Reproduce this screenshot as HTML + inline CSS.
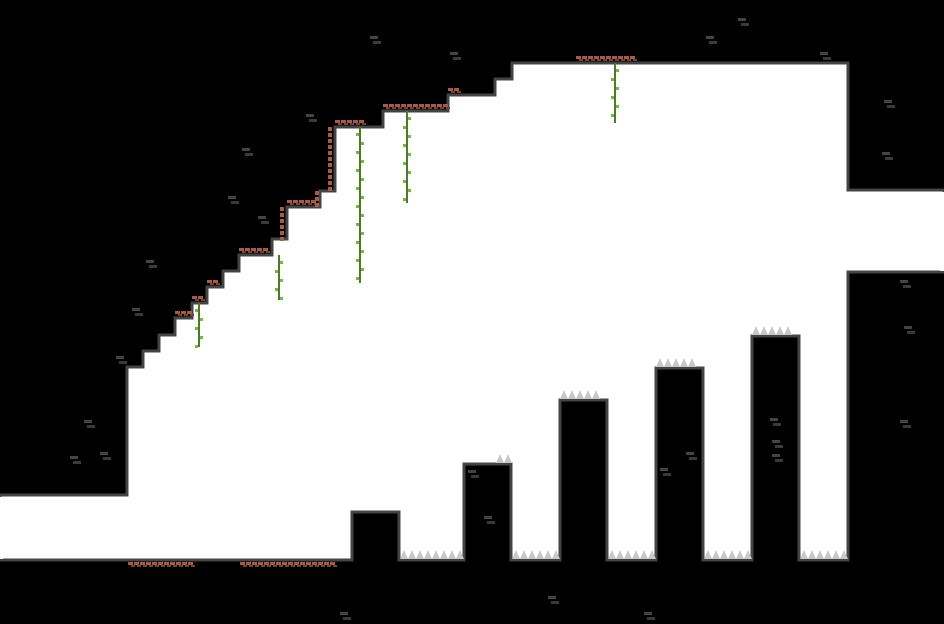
<!DOCTYPE html>
<html><head><meta charset="utf-8"><style>
html,body{margin:0;padding:0;background:#000;width:944px;height:624px;overflow:hidden}
svg{display:block}
</style></head><body>
<svg id="scene" width="944" height="624" viewBox="0 0 944 624" xmlns="http://www.w3.org/2000/svg">
<rect x="0" y="0" width="944" height="624" fill="#000"/>
<polygon fill="#fff" stroke="#444" stroke-width="3"
points="0,495 127,495 127,367 143,367 143,351 159,351 159,335 175,335 175,318 192,318 192,303 207,303 207,287 223,287 223,271 239,271 239,255 272,255 272,239 287,239 287,207 320,207 320,191 335,191 335,127 383,127 383,111 448,111 448,95 495,95 495,79 512,79 512,63 848,63 848,190 944,190 944,272 848,272 848,560 799,560 799,336 752,336 752,560 703,560 703,368 656,368 656,560 607,560 607,400 560,400 560,560 511,560 511,464 464,464 464,560 399,560 399,512 352,512 352,560 0,560"/>
<rect x="-3" y="497" width="6" height="62" fill="#fff"/>
<rect x="940" y="192" width="6" height="79" fill="#fff"/>
<g id="spikes"></g>
<g id="bricks"></g>
<g id="vines"></g>
<g id="deco"></g>
</svg>
<script>
const NS='http://www.w3.org/2000/svg';
const spikeRuns=[[400,464,559],[512,560,559],[608,656,559],[704,752,559],[800,848,559],[560,607,399],[656,703,367],[752,799,335],[496,512,463]];
const brickRuns=[[128,194,560],[240,336,560],[175,192,318],[192,207,303],[207,223,287],[239,272,255],[287,320,207],[335,368,127],[383,448,111],[448,464,95],[576,640,63]];
const vineList=[[199,303,347],[279,255,300],[360,127,283],[407,111,203],[615,63,123]];
const decoList=[[370,36],[450,52],[706,36],[738,18],[820,52],[884,100],[882,152],[306,114],[242,148],[228,196],[258,216],[146,260],[132,308],[116,356],[84,420],[70,456],[100,452],[900,420],[904,326],[468,470],[484,516],[340,612],[548,596],[644,612],[660,468],[686,452],[770,418],[772,440],[772,454],[900,280]];
function el(t,a,p,name){const e=document.createElementNS(NS,t);for(const k in a)e.setAttribute(k,a[k]);


p.appendChild(e);return e;}
const sg=document.getElementById('spikes');
spikeRuns.forEach(r=>{for(let x=r[0];x+8<=r[1];x+=8){el('polygon',{points:`${x},${r[2]} ${x+4},${r[2]-9} ${x+8},${r[2]}`,fill:'#c8c8c8'},sg,'spike');}});
const bg=document.getElementById('bricks');
brickRuns.forEach(r=>{const y0=r[2]+(r[2]==560?2:-7);for(let x=r[0];x+5<=r[1];x+=6){el('rect',{x:x,y:y0,width:5,height:3,fill:'#a85a44'},bg,'brick');el('rect',{x:x+3,y:y0+3,width:4,height:2,fill:'#7a3e2e'},bg,'brick');}});
[[333,127,191],[320,191,207],[285,207,239]].forEach(r=>{for(let y=r[1];y<r[2];y+=6){el('rect',{x:r[0]-5,y:y,width:4,height:4,fill:'#a85a44'},bg,'brick');}});
const vg=document.getElementById('vines');
vineList.forEach(v=>{el('line',{x1:v[0],y1:v[1],x2:v[0],y2:v[2],stroke:'#4a7a2a','stroke-width':2},vg,'vine');
for(let y=v[1]+6;y<v[2];y+=9){el('rect',{x:v[0]+((y/9|0)%2?1:-4),y:y,width:3,height:3,fill:'#6cbf3a'},vg,'vine-leaf');}});
const dg=document.getElementById('deco');
decoList.forEach(d=>{el('rect',{x:d[0],y:d[1],width:8,height:3,fill:'#444'},dg,'rock-brick');
el('rect',{x:d[0]+3,y:d[1]+5,width:8,height:3,fill:'#3a3a3a'},dg,'rock-brick');});
</script>
</body></html>
